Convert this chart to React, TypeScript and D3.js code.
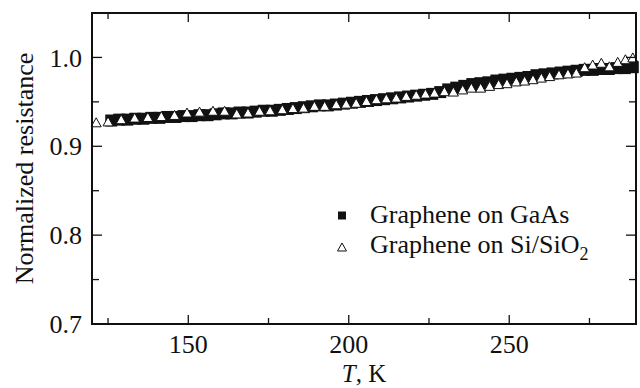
import * as React from "react";
import * as d3 from "d3";

// Graphene on GaAs (filled squares)
const gaasT = [
  126, 128.5, 131, 133.5, 136, 138.5, 141, 143.5, 146, 148.5, 151, 153.5, 156, 158.5, 161, 163.5,
  166, 168.5, 171, 173.5, 176, 178.5, 181, 183.5, 186, 188.5, 191, 193.5, 196, 198.5, 201, 203.5,
  206, 208.5, 211, 213.5, 216, 218.5, 221, 223.5, 226, 228.5, 231, 233.5, 236, 238.5, 241, 243.5,
  246, 248.5, 251, 253.5, 256, 258.5, 261, 263.5, 266, 268.5, 271, 273.5, 276, 278.5, 281, 283.5,
  286, 288.5,
];
const gaasR = [
  0.929, 0.93, 0.93, 0.931, 0.931, 0.932, 0.932, 0.933, 0.933, 0.934, 0.934, 0.935, 0.935, 0.936,
  0.937, 0.937, 0.938, 0.938, 0.939, 0.94, 0.94, 0.941, 0.942, 0.943, 0.944, 0.945, 0.946, 0.946,
  0.947, 0.948, 0.949, 0.95, 0.951, 0.952, 0.953, 0.954, 0.955, 0.956, 0.957, 0.958, 0.959, 0.961,
  0.964, 0.966, 0.968, 0.97, 0.971, 0.972, 0.974, 0.975, 0.976, 0.977, 0.978, 0.98, 0.981, 0.982,
  0.983, 0.984, 0.985, 0.986, 0.986, 0.987, 0.987, 0.988, 0.988, 0.989,
];

// Graphene on Si/SiO2 (open triangles)
const sioT = [
  121.3, 125.0, 129.1, 133.3, 137.4, 141.6, 145.7, 149.6, 153.5, 157.7, 161.3, 165.1, 168.6, 172.2,
  175.5, 179.3, 182.6, 185.9, 189.3, 192.5, 196.1, 199.2, 202.3, 205.5, 208.6, 211.7, 214.8, 217.9,
  221.0, 223.9, 226.7, 229.8, 232.6, 235.5, 238.2, 241.1, 243.9, 246.7, 249.3, 252.2, 254.8, 257.4,
  260.0, 262.6, 265.5, 268.3, 270.9, 273.5, 276.0, 278.7, 281.2, 283.8, 286.2, 288.5,
];
const sioR = [
  0.927, 0.928, 0.9305, 0.9323, 0.933, 0.934, 0.9353, 0.938, 0.939, 0.94, 0.94, 0.937, 0.938, 0.94,
  0.9405, 0.9417, 0.943, 0.9435, 0.9455, 0.9455, 0.9473, 0.948, 0.949, 0.951, 0.953, 0.954, 0.9548,
  0.9567, 0.958, 0.9593, 0.9604, 0.962, 0.9616, 0.964, 0.966, 0.966, 0.968, 0.97, 0.971, 0.973,
  0.974, 0.9755, 0.9773, 0.979, 0.981, 0.982, 0.983, 0.989, 0.992, 0.994, 0.99, 0.995, 0.998, 1.0,
];

const xMajor = [150, 200, 250];
const xMinor = [125, 175, 225, 275];
const yMajor = [0.7, 0.8, 0.9, 1.0];
const yMinor = [0.75, 0.85, 0.95];

const W = 640;
const H = 388;
const PLOT = { left: 92, right: 636, top: 13, bottom: 324 };
const FONT = "'Liberation Serif', 'Times New Roman', serif";

const triPath = (cx: number, cy: number, w: number, h: number) =>
  `M${cx - w / 2},${cy + h / 2}L${cx},${cy - h / 2}L${cx + w / 2},${cy + h / 2}Z`;

export default function App() {
  const x = d3.scaleLinear().domain([120, 289.5]).range([PLOT.left, PLOT.right]);
  const y = d3.scaleLinear().domain([0.7, 1.05]).range([PLOT.bottom, PLOT.top]);
  const sq = 12;

  return (
    <svg
      width={W}
      height={H}
      style={{ position: "absolute", left: 0, top: 0, background: "#fff" }}
      fontFamily={FONT}
    >
      {/* data: squares first, triangles on top */}
      {gaasT.map((t, i) => (
        <rect
          key={`s-${i}`}
          x={x(t) - sq / 2}
          y={y(gaasR[i]) - sq / 2}
          width={sq}
          height={sq}
          fill="#111"
        />
      ))}
      {sioT.map((t, i) => (
        <path
          key={`t-${i}`}
          d={triPath(x(t), y(sioR[i]), 10, 9)}
          fill="#fff"
          stroke="#111"
          strokeWidth={1}
        />
      ))}

      {/* frame */}
      <rect
        x={PLOT.left}
        y={PLOT.top}
        width={PLOT.right - PLOT.left}
        height={PLOT.bottom - PLOT.top}
        fill="none"
        stroke="#111"
        strokeWidth={2}
      />

      {/* x ticks (bottom and top, inward) */}
      {[...xMajor.map((t) => [t, 9]), ...xMinor.map((t) => [t, 6])].map(([t, len]) => (
        <g key={`xt-${t}`} stroke="#111" strokeWidth={1.3}>
          <line x1={x(t)} x2={x(t)} y1={PLOT.bottom} y2={PLOT.bottom - len} />
          <line x1={x(t)} x2={x(t)} y1={PLOT.top} y2={PLOT.top + len} />
        </g>
      ))}
      {xMajor.map((t) => (
        <text key={`xl-${t}`} x={x(t)} y={353} textAnchor="middle" fontSize={26} fill="#111">
          {t}
        </text>
      ))}

      {/* y ticks (left and right, inward) */}
      {[...yMajor.map((v) => [v, 10]), ...yMinor.map((v) => [v, 7])].map(([v, len]) => (
        <g key={`yt-${v}`} stroke="#111" strokeWidth={1.3}>
          <line x1={PLOT.left} x2={PLOT.left + len} y1={y(v)} y2={y(v)} />
          <line x1={PLOT.right} x2={PLOT.right - len} y1={y(v)} y2={y(v)} />
        </g>
      ))}
      {yMajor.map((v) => (
        <text
          key={`yl-${v}`}
          x={82}
          y={y(v)}
          dy="0.35em"
          textAnchor="end"
          fontSize={26}
          fill="#111"
        >
          {v.toFixed(1)}
        </text>
      ))}

      {/* axis titles */}
      <text x={(PLOT.left + PLOT.right) / 2} y={382} textAnchor="middle" fontSize={25} fill="#111">
        <tspan fontStyle="italic">T</tspan>, K
      </text>
      <text
        transform={`translate(33,${(PLOT.top + PLOT.bottom) / 2}) rotate(-90)`}
        textAnchor="middle"
        fontSize={26}
        fill="#111"
      >
        Normalized resistance
      </text>

      {/* legend */}
      <rect x={342 - 4} y={215.5 - 4} width={8} height={8} fill="#111" />
      <text x={370} y={223} fontSize={26} fill="#111">
        Graphene on GaAs
      </text>
      <path d={triPath(342, 247, 9, 8)} fill="#fff" stroke="#111" strokeWidth={1} />
      <text x={370} y={253} fontSize={26} fill="#111">
        Graphene on Si/SiO
        <tspan fontSize={18} dy={7}>
          2
        </tspan>
      </text>
    </svg>
  );
}
